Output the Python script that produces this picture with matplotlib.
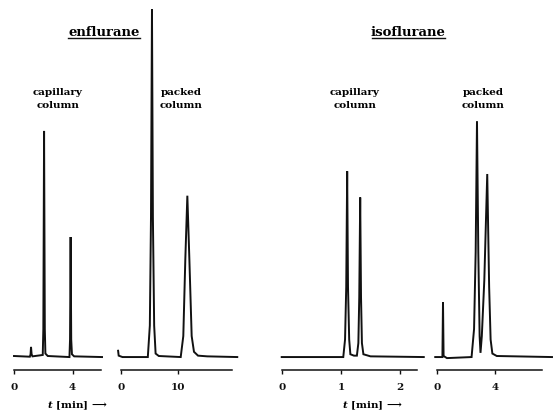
import matplotlib
matplotlib.use('Agg')
import matplotlib.pyplot as plt
from matplotlib.lines import Line2D

plt.rcParams['font.family'] = ['DejaVu Serif', 'DejaVu Sans']
plt.rcParams['font.weight'] = 'bold'
plt.rcParams['mathtext.fontset'] = 'dejavuserif'

# enflurane, capillary column  (t in min, detector response in arbitrary units)
enf_cap_t = [0.0, 1.08, 1.13, 1.16, 1.20, 1.26, 1.80, 1.96, 2.00, 2.05, 2.10,
             2.14, 2.30, 3.78, 3.82, 3.86, 3.90, 3.95, 4.10, 6.0]
enf_cap_y = [0.3, 0.1, 0.8, 2.9, 0.8, 0.2, 0.5, 0.6, 8.0, 64.6, 8.0,
             1.0, 0.3, 0.0, 5.0, 34.3, 5.0, 0.8, 0.2, 0.0]
enf_cap_ticks = [0, 4]
enf_cap_tmax = 5.9

# enflurane, packed column
enf_pac_t = [-0.45, -0.35, 0.3, 4.70, 5.05, 5.25, 5.42, 5.58, 5.80, 6.05, 6.6,
             10.40, 10.85, 11.20, 11.55, 11.90, 12.30, 12.70, 13.4, 15.0, 20.2]
enf_pac_y = [1.8, 0.4, 0.0, 0.0, 9.0, 40.0, 99.4, 40.0, 9.0, 1.0, 0.3,
             0.0, 6.0, 28.0, 46.1, 28.0, 6.0, 1.5, 0.4, 0.2, 0.0]
enf_pac_ticks = [0, 10]
enf_pac_tmax = 19.3

# isoflurane, capillary column
iso_cap_t = [0.0, 1.04, 1.07, 1.09, 1.106, 1.12, 1.14, 1.16, 1.22,
             1.27, 1.295, 1.31, 1.326, 1.34, 1.355, 1.38, 1.5, 2.4]
iso_cap_y = [0.0, 0.0, 5.0, 20.0, 53.1, 20.0, 5.0, 0.8, 0.4,
             0.4, 4.0, 17.0, 45.6, 17.0, 4.0, 0.8, 0.2, 0.0]
iso_cap_ticks = [0, 1, 2]
iso_cap_tmax = 2.29

# isoflurane, packed column
iso_pac_t = [-0.1, 0.39, 0.43, 0.47, 0.7, 2.38, 2.55, 2.66, 2.75, 2.84, 2.93, 2.99,
             3.08, 3.25, 3.45, 3.58, 3.68, 3.80, 4.1, 7.87]
iso_pac_y = [0.0, 0.0, 15.7, 0.3, -0.3, 0.0, 8.0, 30.0, 67.4, 30.0, 6.0, 1.2,
             6.0, 22.0, 52.3, 20.0, 5.0, 1.0, 0.3, 0.0]
iso_pac_ticks = [0, 4]
iso_pac_tmax = 7.2

W, H = 554, 414
AX_BOTTOM = 371  # pixel row of the time axis

fig = plt.figure(figsize=(W / 100, H / 100), dpi=100)


def fx(x):
    return x / W


def fy(y):
    return 1 - y / H


def add_panel(left_px, px_per_min, tmax, t, y, ticks):
    ax = fig.add_axes([fx(left_px), fy(AX_BOTTOM), tmax * px_per_min / W, AX_BOTTOM / H])
    ax.plot(t, y, color='#111111', lw=1.4, clip_on=False, solid_joinstyle='miter')
    ax.set_xlim(0, tmax)
    ax.set_ylim(-3.7, 102.3)
    for s in ['top', 'right', 'left']:
        ax.spines[s].set_visible(False)
    ax.spines['bottom'].set_linewidth(1.1)
    ax.spines['bottom'].set_color('#111111')
    ax.set_yticks([])
    ax.set_xticks(ticks)
    ax.tick_params(axis='x', direction='out', length=3, width=1, pad=6,
                   labelsize=7.5, colors='#111111')
    ax.patch.set_alpha(0)
    return ax


add_panel(14, 14.67, enf_cap_tmax, enf_cap_t, enf_cap_y, enf_cap_ticks)
add_panel(120.7, 5.77, enf_pac_tmax, enf_pac_t, enf_pac_y, enf_pac_ticks)
add_panel(281.7, 59.2, iso_cap_tmax, iso_cap_t, iso_cap_y, iso_cap_ticks)
add_panel(436.7, 14.65, iso_pac_tmax, iso_pac_t, iso_pac_y, iso_pac_ticks)

# titles, underlined
for name, cx, x0, x1 in [('enflurane', 104, 68, 140), ('isoflurane', 408, 372, 445)]:
    fig.text(fx(cx), fy(36), name, ha='center', va='baseline', fontsize=9.5)
    fig.add_artist(Line2D([fx(x0), fx(x1)], [fy(38.5), fy(38.5)],
                          transform=fig.transFigure, color='#111111', lw=1))

# column labels
for label, cx in [('capillary\ncolumn', 58), ('packed\ncolumn', 181),
                  ('capillary\ncolumn', 355), ('packed\ncolumn', 483)]:
    fig.text(fx(cx), fy(99), label, ha='center', va='center', fontsize=7.5,
             linespacing=1.55)

# time axis labels
for cx, cy in [(77, 406), (372, 406)]:
    fig.text(fx(cx), fy(cy), '$t$ [min] \u27f6', ha='center', va='center', fontsize=7.5)

fig.savefig('out.png', dpi=100)
